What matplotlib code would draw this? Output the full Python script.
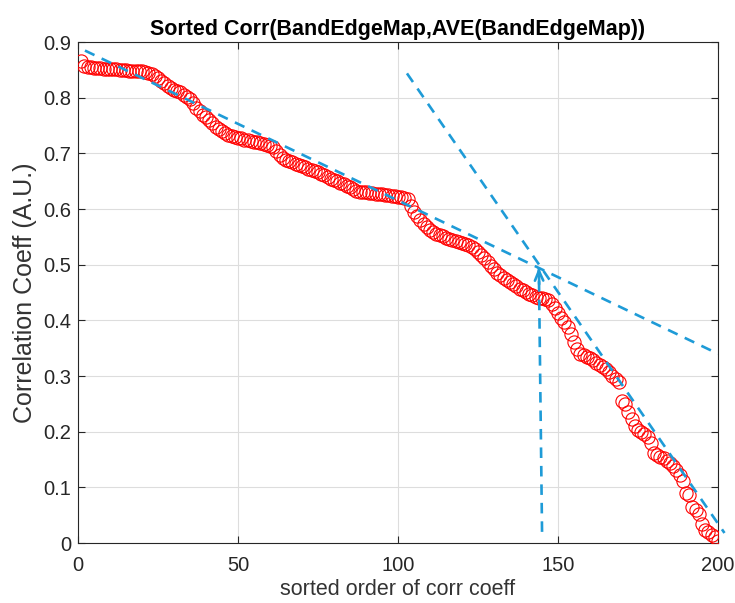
import numpy as np
import matplotlib
matplotlib.use("Agg")
import matplotlib.pyplot as plt

plt.rcParams['font.family'] = ['Liberation Sans', 'DejaVu Sans']

corr_values = [
    0.866, 0.858, 0.856, 0.855, 0.854, 0.853, 0.853, 0.852, 0.852, 0.851,
    0.851, 0.851, 0.850, 0.850, 0.850, 0.849, 0.849, 0.849, 0.848, 0.848,
    0.847, 0.845, 0.843, 0.840, 0.836, 0.831, 0.826, 0.822, 0.818, 0.815,
    0.812, 0.810, 0.806, 0.802, 0.798, 0.790, 0.782, 0.776, 0.770, 0.765,
    0.760, 0.754, 0.748, 0.744, 0.740, 0.737, 0.734, 0.732, 0.730, 0.728,
    0.727, 0.725, 0.724, 0.722, 0.721, 0.720, 0.719, 0.717, 0.716, 0.714,
    0.712, 0.705, 0.697, 0.692, 0.689, 0.687, 0.684, 0.682, 0.680, 0.678,
    0.676, 0.673, 0.671, 0.669, 0.667, 0.664, 0.661, 0.658, 0.655, 0.652,
    0.650, 0.647, 0.645, 0.642, 0.639, 0.636, 0.633, 0.631, 0.630, 0.630,
    0.629, 0.629, 0.628, 0.628, 0.627, 0.626, 0.625, 0.624, 0.623, 0.622,
    0.621, 0.620, 0.619, 0.605, 0.595, 0.588, 0.580, 0.574, 0.568, 0.563,
    0.559, 0.556, 0.553, 0.551, 0.549, 0.547, 0.545, 0.543, 0.541, 0.540,
    0.538, 0.535, 0.532, 0.528, 0.523, 0.517, 0.512, 0.505, 0.498, 0.492,
    0.486, 0.481, 0.477, 0.473, 0.469, 0.465, 0.461, 0.457, 0.454, 0.451,
    0.448, 0.445, 0.443, 0.441, 0.440, 0.438, 0.436, 0.430, 0.422, 0.413,
    0.405, 0.397, 0.388, 0.376, 0.362, 0.348, 0.340, 0.338, 0.335, 0.332,
    0.328, 0.324, 0.320, 0.316, 0.312, 0.307, 0.300, 0.295, 0.289, 0.255,
    0.250, 0.236, 0.222, 0.210, 0.203, 0.200, 0.196, 0.190, 0.180, 0.162,
    0.158, 0.155, 0.152, 0.148, 0.143, 0.138, 0.131, 0.122, 0.112, 0.090,
    0.087, 0.065, 0.060, 0.052, 0.035, 0.024, 0.020, 0.015, 0.010, 0.004,
]
order = list(range(1, len(corr_values) + 1))

# fitted trend lines (endpoints)
fit1_x = [2.2, 200]
fit1_y = [0.885, 0.340]
fit2_x = [102.8, 202]
fit2_y = [0.844, 0.018]
# knee marker arrow
arrow_x = [145, 144]
arrow_y = [0.02, 0.495]

x_ticks = [0, 50, 100, 150, 200]
y_ticks = [0, 0.1, 0.2, 0.3, 0.4, 0.5, 0.6, 0.7, 0.8, 0.9]

blue = '#1E9BD7'
dash = (0, (4, 3))
fs_tick, fs_xlab, fs_ylab, fs_title = 14.5, 15.5, 18, 15.5

fig = plt.figure(figsize=(7.35, 6.03), dpi=100)
ax = fig.add_axes([0.106, 0.0995, 0.871, 0.8305])

ax.plot(order, corr_values, linestyle='none', marker='o', markersize=9.5,
        markerfacecolor='none', markeredgecolor='#FF0000', markeredgewidth=0.8,
        zorder=3)
ax.plot(fit1_x, fit1_y, linestyle=dash, color=blue, linewidth=1.9, zorder=4)
ax.plot(fit2_x, fit2_y, linestyle=dash, color=blue, linewidth=1.9, zorder=4,
        clip_on=False)
ax.plot(arrow_x, arrow_y, linestyle=dash, color=blue, linewidth=1.9, zorder=4)
ax.annotate('', xy=(arrow_x[1], arrow_y[1]),
            xytext=(arrow_x[1] + 0.1, arrow_y[1] - 0.03),
            arrowprops=dict(arrowstyle='->,head_length=0.7,head_width=0.3',
                            color=blue, linewidth=1.9,
                            shrinkA=0, shrinkB=0), zorder=4)

ax.set_xlim(0, 200)
ax.set_ylim(0, 0.9)
ax.set_xticks(x_ticks)
ax.set_yticks(y_ticks)
ax.set_xticklabels([str(t) for t in x_ticks])
ax.set_yticklabels(['0'] + [f'{t:.1f}' for t in y_ticks[1:]])
ax.grid(True, color='#DDDDDD', linewidth=0.8)
ax.set_axisbelow(True)
ax.tick_params(direction='in', top=True, right=True, labelsize=fs_tick, length=5,
               width=0.8, colors='#262626', labelcolor='#262626')
ax.tick_params(axis='x', pad=9)
ax.tick_params(axis='y', pad=5)
for s in ax.spines.values():
    s.set_color('#262626')
    s.set_linewidth(0.8)

ax.set_title('Sorted Corr(BandEdgeMap,AVE(BandEdgeMap))', fontsize=fs_title,
             fontweight='bold', pad=5)
ax.set_xlabel('sorted order of corr coeff', fontsize=fs_xlab, color='#333333',
              labelpad=3)
ax.set_ylabel('Correlation Coeff (A.U.)', fontsize=fs_ylab, color='#333333',
              labelpad=4)

fig.savefig('out.png', dpi=100)
